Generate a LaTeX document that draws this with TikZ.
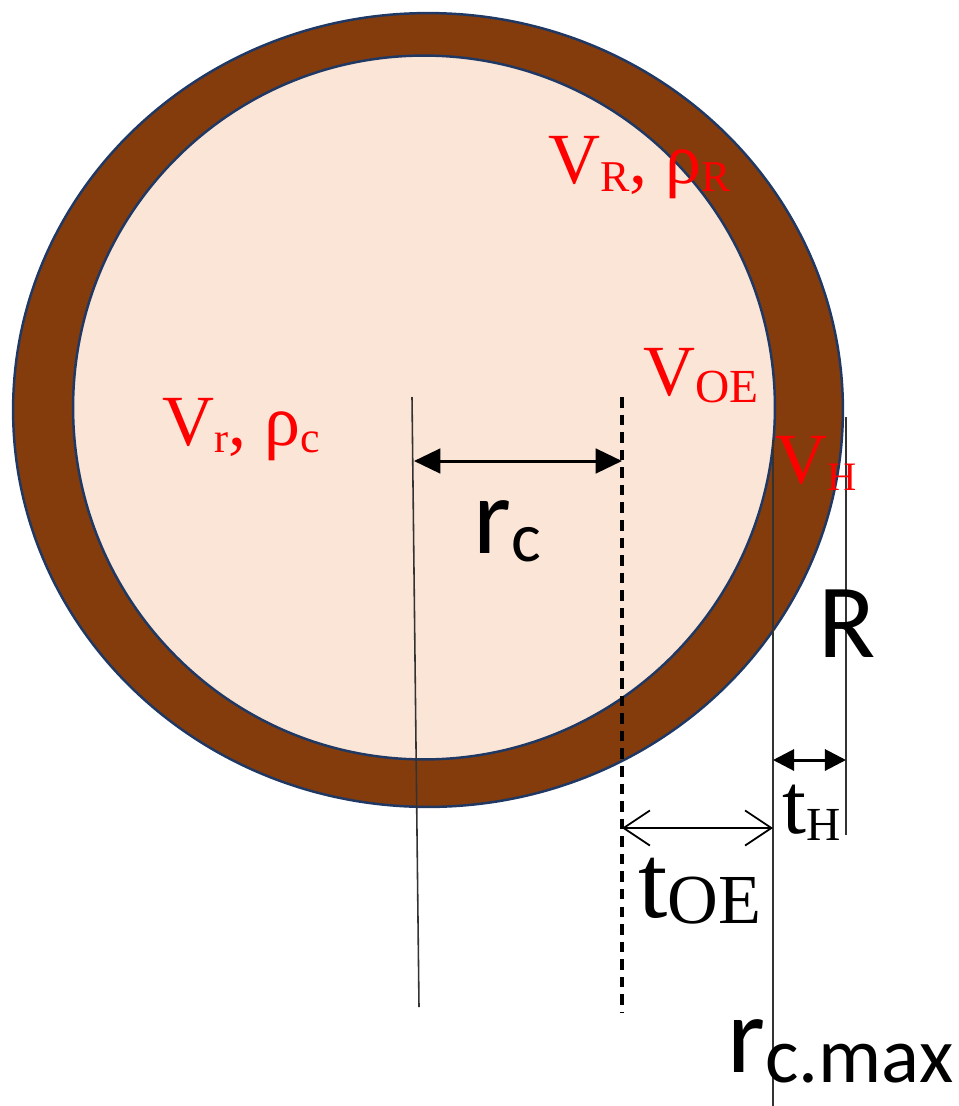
\documentclass[tikz,border=0pt]{standalone}
\usepackage{fontspec}
\setmainfont{Liberation Serif}
\newfontfamily\calfont{Carlito}
\usetikzlibrary{arrows.meta}
\definecolor{shellbrown}{RGB}{132,60,12}
\definecolor{corepeach}{RGB}{251,229,214}
\definecolor{rimnavy}{RGB}{31,56,100}
\newcommand{\fsz}[1]{\fontsize{#1}{#1}\selectfont}
\newcommand{\lowsub}[3]{\raisebox{-#2}{\fsz{#1}#3}}

\begin{document}
\begin{tikzpicture}[x=0.02cm,y=-0.02cm,
  redlbl/.style={text=red,inner sep=0,anchor=base west,font=\rmfamily\fsz{41}},
  serlbl/.style={inner sep=0,anchor=base west,font=\rmfamily},
  sanslbl/.style={inner sep=0,anchor=base west,font=\calfont}]
  \useasboundingbox (0,0) rectangle (959,1106);

  \draw[rimnavy,line width=1.4pt,fill=shellbrown] (428,410) ellipse [x radius=8.3cm,y radius=7.94cm];
  \draw[rimnavy,line width=1.4pt,fill=corepeach] (424,407.5) ellipse [x radius=7.02cm,y radius=7.04cm];

  \coordinate (ctop) at (412,397);
  \coordinate (cbot) at (419,1007);
  \coordinate (rctop) at (622,397);
  \coordinate (rcbot) at (622,1013);
  \coordinate (oetop) at (773,440);
  \coordinate (oebot) at (773,1106);
  \coordinate (htop) at (846,417);
  \coordinate (hbot) at (846,835);
  \coordinate (rcl) at (414,461);
  \coordinate (rcr) at (622,461);
  \coordinate (hl) at (773,760);
  \coordinate (hr) at (846,760);
  \coordinate (oel) at (622,828);
  \coordinate (oer) at (773,828);

  \draw[black!80,line width=0.9pt] (ctop) -- (cbot);
  \draw[black,line width=2pt,dash pattern=on 6pt off 4pt] (rctop) -- (rcbot);
  \draw[black!80,line width=0.9pt] (oetop) -- (oebot);
  \draw[black!80,line width=0.9pt] (htop) -- (hbot);

  \draw[{Triangle[length=15pt,width=14pt]}-{Triangle[length=15pt,width=14pt]},line width=1.7pt] (rcl) -- (rcr);
  \draw[{Triangle[length=12pt,width=12pt]}-{Triangle[length=12pt,width=12pt]},line width=1.7pt] (hl) -- (hr);
  \draw[{Straight Barb[length=15pt,width=20pt]}-{Straight Barb[length=15pt,width=20pt]},line width=1pt] (oel) -- (oer);

  \node[redlbl] (vr) at (162,445) {V\lowsub{24}{4pt}{r}, ρ\lowsub{25}{4pt}{c}};
  \node[redlbl] (vshell) at (548,183) {V\lowsub{25}{5pt}{R}, ρ\lowsub{25}{5pt}{R}};
  \node[redlbl] (voe) at (643,395) {V\lowsub{27}{4pt}{OE}};
  \node[redlbl] (vh) at (775,483) {V\lowsub{23}{4pt}{H}};

  \node[sanslbl] (rc) at (473,553) {\fsz{62}r\lowsub{40}{5pt}{c}};
  \node[sanslbl] (rr) at (818,657) {\fsz{60}R};
  \node[sanslbl] (rcmax) at (727,1072) {\fsz{62}r\lowsub{45}{6pt}{c.max}};
  \node[serlbl] (th) at (782,833) {\fsz{49}t\lowsub{27}{4pt}{H}};
  \node[serlbl] (toe) at (638,917) {\fsz{60}t\lowsub{40}{3.5pt}{OE}};
\end{tikzpicture}
\end{document}
